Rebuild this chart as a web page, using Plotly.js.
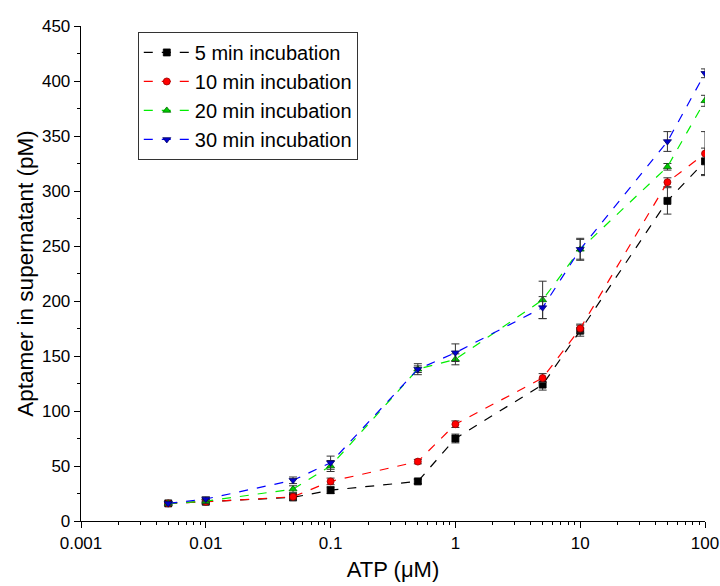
<!DOCTYPE html>
<html><head><meta charset="utf-8">
<script src="https://cdn.plot.ly/plotly-3.0.1.min.js"></script>
<style>body{margin:0;padding:0;background:#fff}#chart{width:720px;height:586px}</style>
</head><body><div id="chart"></div>
<script>
const atp = [0.005, 0.01, 0.05, 0.1, 0.5, 1, 5, 10, 50, 100];
const names = ["5 min incubation", "10 min incubation", "20 min incubation", "30 min incubation"];
const min5  = [16, 17.5, 21.5, 28, 36, 75, 124, 173, 291, 327];
const min10 = [16, 17.5, 22, 36, 54, 88, 130, 175, 308, 334];
const min20 = [16, 18, 29, 50, 138, 147, 201, 247, 322, 382];
const min30 = [16, 20, 37, 53, 138, 153, 194, 247, 345, 407];
const err5  = [1.5, 2, 3, 3, 2, 4, 5, 5, 12, 12];
const err10 = [1.5, 2, 3, 3, 2, 3, 4, 4, 4, 20];
const err20 = [1.5, 2, 3, 5, 3, 5, 17, 10, 3, 5];
const err30 = [1.5, 2, 3, 6, 5, 8, 10, 9, 9, 4];

const seriesY = [min5, min10, min20, min30];
const seriesE = [err5, err10, err20, err30];
const lineColors = ["#000000", "#ff0000", "#00ee00", "#0000ff"];
const markerColors = ["#000000", "#ff0000", "#00cc00", "#0000cc"];
const markerLines = ["#000000", "#990000", "#006600", "#000066"];
const symbols = ["square", "circle", "triangle-up", "triangle-down"];

const traces = seriesY.map((y, i) => ({
  x: atp, y: y, name: names[i], type: "scatter", mode: "lines+markers",
  line: {color: lineColors[i], width: 1.2, dash: "dash"},
  marker: {symbol: symbols[i], size: 7, color: markerColors[i], line: {color: markerLines[i], width: 0.8}},
  error_y: {type: "data", array: seriesE[i], visible: true, color: "#333333", thickness: 1, width: 4}
}));

const layout = {
  width: 720, height: 586,
  margin: {l: 81, r: 15, t: 26, b: 65},
  paper_bgcolor: "#fff", plot_bgcolor: "#fff",
  font: {family: "Liberation Sans, Arial, sans-serif", color: "#000"},
  showlegend: true,
  legend: {x: 0.091, y: 0.988, xanchor: "left", yanchor: "top",
           bordercolor: "#333", borderwidth: 1, bgcolor: "#fff",
           font: {size: 20, family: "Liberation Sans, Arial, sans-serif"},
           tracegroupgap: 0, itemwidth: 46},
  xaxis: {
    type: "log", range: [-3, 2],
    tickvals: [0.001, 0.01, 0.1, 1, 10, 100],
    ticktext: ["0.001", "0.01", "0.1", "1", "10", "100"],
    ticks: "outside", ticklen: 6, tickwidth: 1, tickcolor: "#000",
    minor: {ticks: "outside", ticklen: 3, tickcolor: "#000", dtick: "D1", showgrid: false},
    showline: true, linecolor: "#000", linewidth: 1.3,
    showgrid: false, zeroline: false,
    tickfont: {size: 17},
    title: {text: "ATP (μM)", font: {size: 22}, standoff: 10}
  },
  yaxis: {
    range: [0, 450], dtick: 50,
    ticks: "outside", ticklen: 6, tickwidth: 1, tickcolor: "#000",
    minor: {ticks: "outside", ticklen: 3, tickcolor: "#000", dtick: 25, showgrid: false},
    showline: true, linecolor: "#000", linewidth: 1.3,
    showgrid: false, zeroline: false,
    tickfont: {size: 17},
    title: {text: "Aptamer in supernatant (pM)", font: {size: 22.5}, standoff: 2}
  }
};
Plotly.newPlot("chart", traces, layout, {displayModeBar: false, staticPlot: true});
</script></body></html>
